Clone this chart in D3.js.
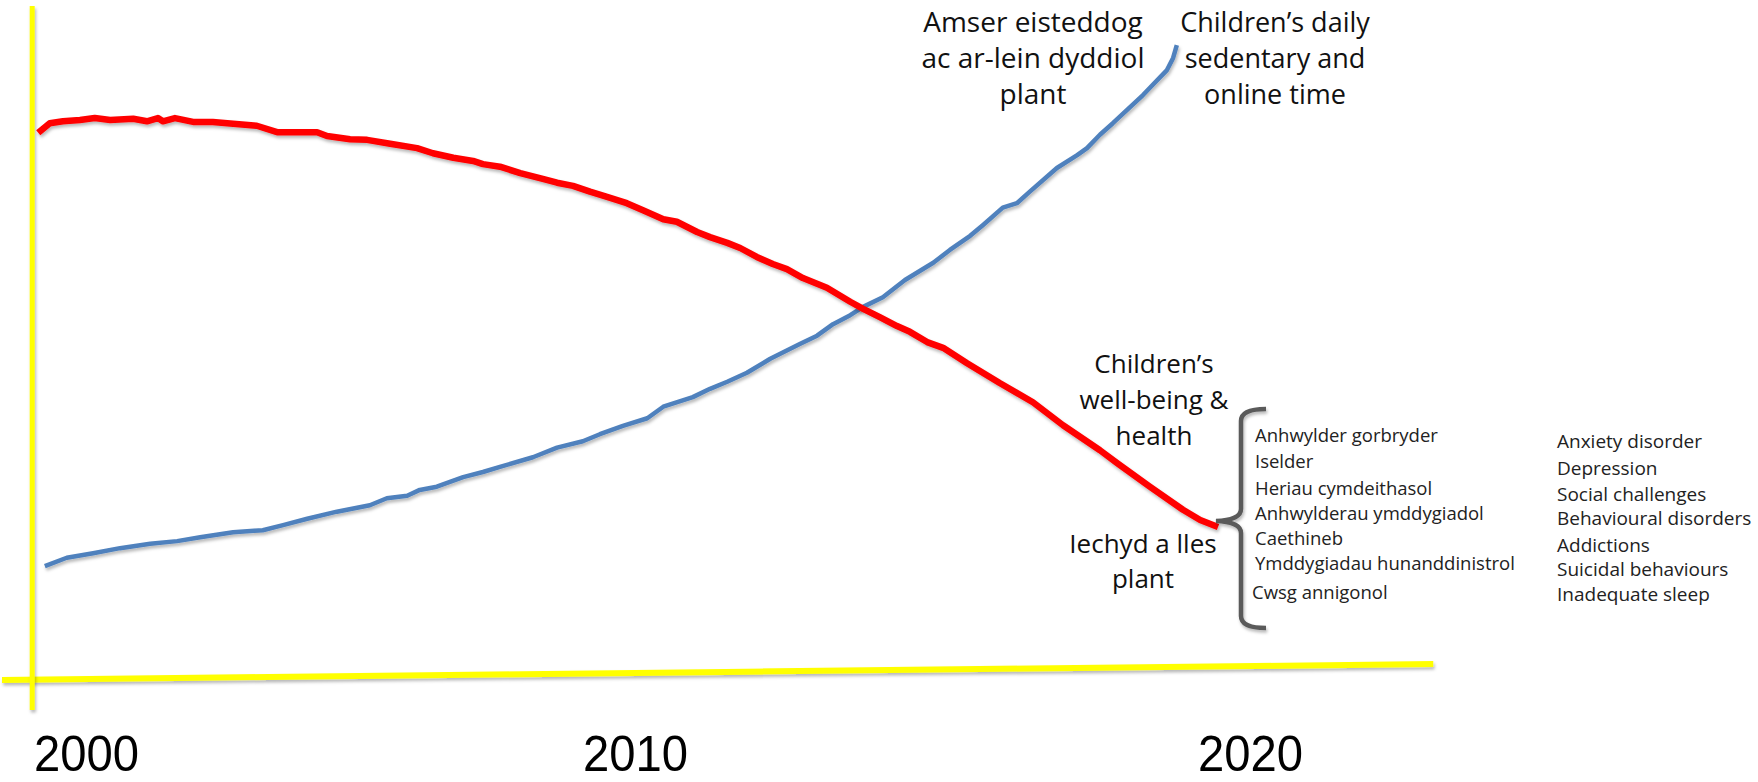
<!DOCTYPE html>
<html>
<head>
<meta charset="utf-8">
<script src="https://cdn.jsdelivr.net/npm/d3@7"></script>
<style>
  html, body { margin: 0; padding: 0; background: #ffffff; }
  svg { display: block; }
</style>
</head>
<body>
<script>
// Year ticks shown under the time axis
const tickYears = [2000, 2010, 2020];

// Children's well-being & health index (falling, red)
const wellbeingYears = [1999.13, 1999.34, 1999.58, 1999.89, 2000.16, 2000.44, 2000.86, 2001.11, 2001.31, 2001.40,
  2001.62, 2001.95, 2002.31, 2002.68, 2003.11, 2003.48, 2003.84, 2004.21, 2004.39, 2004.81,
  2005.12, 2005.54, 2006.03, 2006.32, 2006.69, 2007.05, 2007.23, 2007.54, 2007.91, 2008.32,
  2008.58, 2008.87, 2009.18, 2009.49, 2009.85, 2010.13, 2010.46, 2010.68, 2011.01, 2011.22,
  2011.50, 2011.71, 2011.98, 2012.24, 2012.47, 2012.73, 2013.12, 2013.50, 2013.71, 2013.98,
  2014.26, 2014.47, 2014.75, 2015.01, 2015.40, 2015.93, 2016.47, 2016.96, 2017.56, 2017.84,
  2018.37, 2018.91, 2019.19, 2019.48];
const wellbeingValues = [85.5, 87.0, 87.3, 87.5, 87.8, 87.5, 87.7, 87.3, 87.8, 87.3,
  87.8, 87.2, 87.2, 86.9, 86.6, 85.6, 85.6, 85.6, 85.0, 84.5,
  84.4, 83.8, 83.1, 82.3, 81.6, 81.1, 80.6, 80.2, 79.2, 78.3,
  77.7, 77.2, 76.3, 75.5, 74.5, 73.4, 72.0, 71.6, 70.0, 69.2,
  68.3, 67.5, 66.1, 65.0, 64.2, 62.8, 61.3, 59.1, 58.0, 56.7,
  55.3, 54.4, 52.8, 51.9, 49.5, 46.4, 43.4, 39.8, 35.9, 33.9,
  30.2, 26.6, 25.0, 23.9];

// Children's daily sedentary and online time (rising, blue)
const screenYears = [1999.25, 1999.65, 2000.13, 2000.62, 2001.17, 2001.66, 2002.08, 2002.68, 2003.22, 2003.59,
  2004.03, 2004.57, 2005.17, 2005.48, 2005.85, 2006.08, 2006.39, 2006.87, 2007.23, 2007.54,
  2008.14, 2008.58, 2009.05, 2009.36, 2009.78, 2010.20, 2010.46, 2010.94, 2011.22, 2011.50,
  2011.82, 2012.20, 2012.68, 2012.96, 2013.22, 2013.50, 2013.71, 2014.03, 2014.39, 2014.85,
  2015.12, 2015.45, 2015.66, 2015.98, 2016.21, 2016.42, 2016.86, 2017.19, 2017.35, 2017.56,
  2017.77, 2018.26, 2018.42, 2018.65, 2018.75, 2018.81];
const screenValues = [17.8, 19.1, 19.8, 20.6, 21.3, 21.7, 22.3, 23.1, 23.4, 24.2,
  25.2, 26.3, 27.3, 28.4, 28.8, 29.7, 30.2, 31.7, 32.5, 33.3,
  34.8, 36.3, 37.3, 38.4, 39.7, 40.9, 42.7, 44.2, 45.5, 46.6,
  48.0, 50.2, 52.5, 53.8, 55.6, 57.0, 58.3, 59.8, 62.5, 65.2,
  67.2, 69.4, 71.1, 73.8, 74.5, 76.3, 80.0, 82.0, 83.1, 85.2,
  87.0, 91.4, 93.0, 95.3, 97.2, 99.2];

// Hand-drawn frame lines, as [year, value] end points
const verticalFrame = [[1999.02, 105.3], [1999.02, -4.7]];
const horizontalFrame = [[1998.47, 0], [2022.98, 2.5]];

// Annotation text
const screenLabelCy = ["Amser eisteddog", "ac ar-lein dyddiol", "plant"];
const screenLabelEn = ["Children\u2019s daily", "sedentary and", "online time"];
const healthLabelEn = ["Children\u2019s", "well-being &", "health"];
const healthLabelCy = ["Iechyd a lles", "plant"];
const outcomesCy = ["Anhwylder gorbryder", "Iselder", "Heriau cymdeithasol", "Anhwylderau ymddygiadol",
  "Caethineb", "Ymddygiadau hunanddinistrol", "Cwsg annigonol"];
const outcomesEn = ["Anxiety disorder", "Depression", "Social challenges", "Behavioural disorders",
  "Addictions", "Suicidal behaviours", "Inadequate sleep"];

const W = 1758, H = 782;
const svg = d3.select("body").append("svg").attr("width", W).attr("height", H);

const defs = svg.append("defs");
// Soft drop shadow; user-space region so zero-width strokes still render
const shadow = defs.append("filter").attr("id", "soft-shadow")
  .attr("filterUnits", "userSpaceOnUse")
  .attr("x", 0).attr("y", 0).attr("width", W).attr("height", H);
shadow.append("feDropShadow").attr("dx", 1.2).attr("dy", 2.5).attr("stdDeviation", 1.6)
  .attr("flood-color", "#000").attr("flood-opacity", 0.28);

// Piecewise time scale: the decade ticks are not evenly spaced
const x = d3.scaleLinear().domain([2000, 2010, 2020]).range([86, 635, 1250]);
const y = d3.scaleLinear().domain([0, 100]).range([680, 40]);

const line = d3.line().x(d => x(d[0])).y(d => y(d[1])).curve(d3.curveLinear);

// Frame
svg.append("path").datum(horizontalFrame).attr("d", line)
  .attr("fill", "none").attr("stroke", "#ffff00").attr("stroke-width", 6)
  .attr("filter", "url(#soft-shadow)");
svg.append("path").datum(verticalFrame).attr("d", line)
  .attr("fill", "none").attr("stroke", "#ffff00").attr("stroke-width", 5)
  .attr("filter", "url(#soft-shadow)");

// Series
const wellbeing = wellbeingYears.map((t, i) => [t, wellbeingValues[i]]);
const screen = screenYears.map((t, i) => [t, screenValues[i]]);

svg.append("path").datum(screen).attr("d", line)
  .attr("fill", "none").attr("stroke", "#4f81bd").attr("stroke-width", 4.5)
  .attr("stroke-linejoin", "round").attr("filter", "url(#soft-shadow)");
svg.append("path").datum(wellbeing).attr("d", line)
  .attr("fill", "none").attr("stroke", "#ff0000").attr("stroke-width", 6.5)
  .attr("stroke-linejoin", "round").attr("filter", "url(#soft-shadow)");

// Year axis
const axis = svg.append("g").attr("transform", "translate(0,771)")
  .call(d3.axisBottom(x).tickValues(tickYears).tickFormat(d3.format("d")).tickSize(0));
axis.select(".domain").remove();
axis.selectAll("text")
  .attr("y", 0).attr("dy", 0)
  .attr("fill", "#000")
  .style("font-family", "'Liberation Sans', Arial, sans-serif")
  .style("font-size", "50px")
  .attr("textLength", 105).attr("lengthAdjust", "spacingAndGlyphs");

// Text helpers
const labelFont = "'Open Sans', 'Noto Sans', sans-serif";
function block(lines, cx, baseline, step, size, anchor, fill) {
  const t = svg.append("text")
    .attr("text-anchor", anchor)
    .style("font-family", labelFont)
    .style("font-size", size + "px")
    .attr("fill", fill);
  lines.forEach((s, i) => {
    t.append("tspan").attr("x", cx).attr("y", baseline + i * step).text(s);
  });
  return t;
}

block(screenLabelCy, 1033, 32, 36, 28, "middle", "#111");
block(screenLabelEn, 1275, 32, 36, 27, "middle", "#111");
block(healthLabelEn, 1154, 373, 36, 26, "middle", "#111");
block(healthLabelCy, 1143, 553, 35, 26, "middle", "#111");

// Outcome lists
const cyBaselines = [442, 468, 495, 520, 545, 570, 599];
const cyLeft = [1255, 1255, 1255, 1255, 1255, 1255, 1252];
outcomesCy.forEach((s, i) => {
  svg.append("text").attr("x", cyLeft[i]).attr("y", cyBaselines[i])
    .style("font-family", labelFont).style("font-size", "18.5px")
    .attr("fill", "#222").text(s);
});
const enBaselines = [448, 475, 501, 525, 552, 576, 601];
outcomesEn.forEach((s, i) => {
  svg.append("text").attr("x", 1557).attr("y", enBaselines[i])
    .style("font-family", labelFont).style("font-size", "19px")
    .attr("fill", "#222").text(s);
});

// Curly bracket grouping the outcomes
svg.append("path")
  .attr("d", "M1266,409 Q1241,409 1241,421 L1241,509 Q1241,520 1216,521 Q1241,522 1241,533 L1241,616 Q1241,628 1266,628")
  .attr("fill", "none").attr("stroke", "#5a5a5a").attr("stroke-width", 4.5)
  .attr("filter", "url(#soft-shadow)");
</script>
</body>
</html>
